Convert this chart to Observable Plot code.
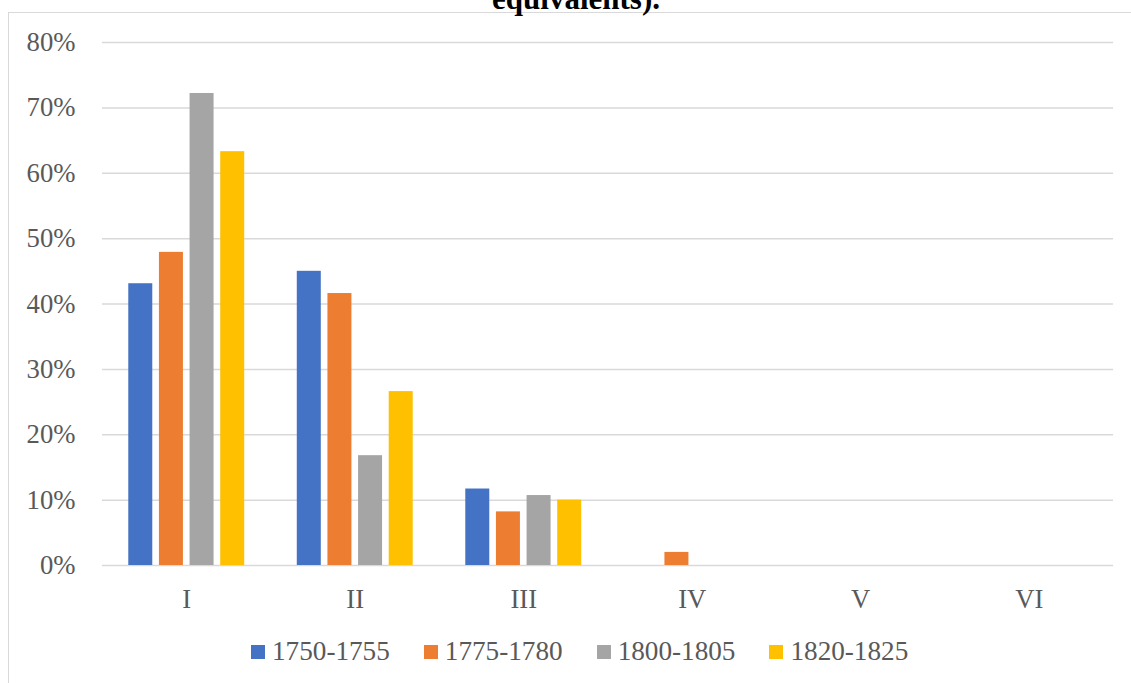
<!DOCTYPE html>
<html>
<head>
<meta charset="utf-8">
<script src="https://cdn.jsdelivr.net/npm/d3@7"></script>
<script src="https://cdn.jsdelivr.net/npm/@observablehq/plot@0.6"></script>
<style>
  html, body { margin: 0; padding: 0; background: #fff; }
  #wrap { position: relative; width: 1131px; height: 683px; overflow: hidden; background: #fff; font-family: "Liberation Serif", "Times New Roman", serif; }
  #frame { position: absolute; left: 8px; top: 12px; width: 1200px; height: 800px; border-left: 1.5px solid #d9d9d9; border-top: 1.5px solid #d9d9d9; }
  #title { position: absolute; left: 0; width: 1152px; top: -17px; text-align: center; font-weight: bold; font-size: 31px; line-height: 31px; color: #000; }
  .layer { position: absolute; left: 0; top: 0; }
  #legend { position: absolute; left: 251px; top: 636px; display: flex; align-items: center; font-size: 27.2px; line-height: 30px; color: #595959; }
  .item { display: flex; align-items: center; margin-right: 34px; }
  .sw { width: 14px; height: 14px; margin-right: 7px; margin-top: 2px; }
</style>
</head>
<body>
<div id="wrap">
  <div id="frame"></div>
  <div id="title">equivalents).</div>
  <div id="grid" class="layer"></div>
  <div id="chart" class="layer"></div>
  <div id="legend"></div>
</div>
<script>
const categories = ["I", "II", "III", "IV", "V", "VI"];
const periods = ["1750-1755", "1775-1780", "1800-1805", "1820-1825"];
const colors = ["#4472C4", "#ED7D31", "#A5A5A5", "#FFC000"];
const v1750 = [0.431, 0.450, 0.117, 0, 0, 0];
const v1775 = [0.479, 0.416, 0.082, 0.020, 0, 0];
const v1800 = [0.722, 0.168, 0.107, 0, 0, 0];
const v1820 = [0.633, 0.266, 0.100, 0, 0, 0];
const yTicks = [0, 0.1, 0.2, 0.3, 0.4, 0.5, 0.6, 0.7, 0.8];

const series = [v1750, v1775, v1800, v1820];
const data = [];
categories.forEach((c, i) => {
  periods.forEach((p, j) => data.push({cat: c, period: p, value: series[j][i]}));
});

const common = {
  width: 1131,
  height: 620,
  marginLeft: 102,
  marginRight: 18,
  marginTop: 42,
  marginBottom: 55,
  style: {fontFamily: "'Liberation Serif', 'Times New Roman', serif", fontSize: "26.7px", color: "#595959", background: "transparent"}
};

// Layer 1: horizontal gridlines and y-axis labels spanning the whole plot area
const grid = Plot.plot({
  ...common,
  y: {domain: [0, 0.8], label: null},
  marks: [
    Plot.gridY(yTicks, {stroke: "#d9d9d9", strokeOpacity: 1, strokeWidth: 1.5}),
    Plot.axisY(yTicks, {tickSize: 0, tickPadding: 27, tickFormat: d3.format(".0%"), label: null, fill: "#595959"})
  ]
});
document.getElementById("grid").appendChild(grid);

// Layer 2: grouped bars faceted by category
const chart = Plot.plot({
  ...common,
  fx: {domain: categories, paddingInner: 0.312, paddingOuter: 0.156, round: false, label: null},
  x: {domain: periods, paddingInner: 0.217, paddingOuter: 0, round: false, axis: null},
  y: {domain: [0, 0.8], axis: null},
  color: {domain: periods, range: colors},
  marks: [
    Plot.barY(data, {fx: "cat", x: "period", y: "value", fill: "period"}),
    Plot.axisFx({anchor: "bottom", tickSize: 0, tickPadding: 23.5, label: null, fill: "#595959"})
  ]
});
document.getElementById("chart").appendChild(chart);

const legend = document.getElementById("legend");
periods.forEach((p, i) => {
  const item = document.createElement("div");
  item.className = "item";
  const sw = document.createElement("div");
  sw.className = "sw";
  sw.style.background = colors[i];
  const t = document.createElement("span");
  t.textContent = p;
  item.appendChild(sw);
  item.appendChild(t);
  legend.appendChild(item);
});
</script>
</body>
</html>
